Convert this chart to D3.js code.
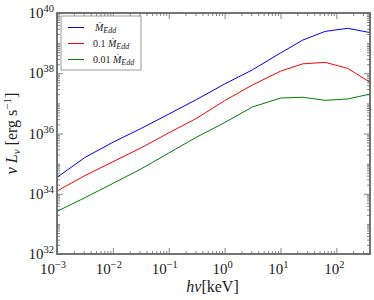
<!DOCTYPE html>
<html>
<head>
<meta charset="utf-8">
<script src="https://cdn.jsdelivr.net/npm/d3@7"></script>
<style>
  body { margin: 0; background: #fff; }
  text { font-family: "Liberation Serif", "DejaVu Serif", serif; fill: #222; }
</style>
</head>
<body>
<svg id="vis" width="374" height="300"></svg>
<script>
// photon energy in keV
const energies = [0.001, 0.00316, 0.01, 0.0316, 0.1, 0.316, 1, 3.16, 10, 25, 63, 160, 400]

// nu L_nu in erg/s for each accretion rate
const lumEdd = [3.5e34, 1.6e35, 5.1e35, 1.45e36, 4.4e36, 1.35e37, 4.4e37, 1.3e38, 4.7e38, 1.26e39, 2.45e39, 3.1e39, 2.24e39]
const lum01 = [1.23e34, 4.0e34, 1.15e35, 3.3e35, 1.05e36, 3.2e36, 1.23e37, 4.1e37, 1.17e38, 2.05e38, 2.3e38, 1.45e38, 5.0e37]
const lum001 = [2.6e33, 7.4e33, 2.2e34, 6.6e34, 2.24e35, 7.6e35, 2.3e36, 7.6e36, 1.5e37, 1.6e37, 1.26e37, 1.4e37, 2.04e37]

const seriesNames = ['', '0.1 ', '0.01 ']
const seriesColors = ['#0000ff', '#ff0000', '#008000']
const seriesValues = [lumEdd, lum01, lum001]

const xTickExps = [-3, -2, -1, 0, 1, 2]
const yTickExps = [32, 34, 36, 38, 40]

const margin = {left: 57, top: 13, right: 4, bottom: 46}
const width = 374 - margin.left - margin.right
const height = 300 - margin.top - margin.bottom

const svg = d3.select('#vis')
const chart = svg.append('g')
    .attr('transform', 'translate(' + margin.left + ',' + margin.top + ')')

const x = d3.scaleLog().domain([1e-3, 400]).range([0, width])
const y = d3.scaleLog().domain([1e32, 1e40]).range([height, 0])

// minor ticks: 2..9 times each decade
let xMinor = []
for (let e = -3; e <= 2; e++) for (let k = 2; k <= 9; k++) {
    let v = k * Math.pow(10, e)
    if (v <= 400) xMinor.push(v)
}
let yMinor = []
for (let e = 32; e < 40; e++) for (let k = 1; k <= 9; k++) {
    if (k === 1 && e % 2 === 0) continue
    yMinor.push(k * Math.pow(10, e))
}
const xMajor = xTickExps.map(e => Math.pow(10, e))
const yMajor = yTickExps.map(e => Math.pow(10, e))

const axisColor = '#666'

function tickLines(g){
    g.select('.domain').remove()
    g.selectAll('line').attr('stroke', axisColor).attr('stroke-width', 0.8)
    g.selectAll('text').remove()
}

// inward ticks on all four sides
chart.append('g').attr('transform', 'translate(0,' + height + ')')
    .call(d3.axisBottom(x).tickValues(xMajor).tickSize(-6)).call(tickLines)
chart.append('g').attr('transform', 'translate(0,' + height + ')')
    .call(d3.axisBottom(x).tickValues(xMinor).tickSize(-3)).call(tickLines)
chart.append('g')
    .call(d3.axisTop(x).tickValues(xMajor).tickSize(-6)).call(tickLines)
chart.append('g')
    .call(d3.axisTop(x).tickValues(xMinor).tickSize(-3)).call(tickLines)
chart.append('g')
    .call(d3.axisLeft(y).tickValues(yMajor).tickSize(-6)).call(tickLines)
chart.append('g')
    .call(d3.axisLeft(y).tickValues(yMinor).tickSize(-3)).call(tickLines)
chart.append('g').attr('transform', 'translate(' + width + ',0)')
    .call(d3.axisRight(y).tickValues(yMajor).tickSize(-6)).call(tickLines)
chart.append('g').attr('transform', 'translate(' + width + ',0)')
    .call(d3.axisRight(y).tickValues(yMinor).tickSize(-3)).call(tickLines)

// lines
const line = d3.line()
    .x((d, i) => x(energies[i]))
    .y(d => y(d))

chart.selectAll('.series')
    .data(seriesValues)
    .enter().append('path')
    .attr('class', 'series')
    .attr('d', d => line(d))
    .attr('fill', 'none')
    .attr('stroke', (d, i) => seriesColors[i])
    .attr('stroke-width', 1)

// frame
chart.append('rect')
    .attr('width', width).attr('height', height)
    .attr('fill', 'none')
    .attr('stroke', axisColor)
    .attr('stroke-width', 1.8)

// tick labels as 10^n
xTickExps.forEach(e => {
    let t = chart.append('text')
        .attr('x', x(Math.pow(10, e)) - (e < 0 ? 4 : 2))
        .attr('y', height + 20)
        .attr('text-anchor', 'middle')
        .style('font-size', '15px')
    t.append('tspan').text('10')
    t.append('tspan').attr('dy', -6).style('font-size', '10.5px')
        .text(e < 0 ? '\u2212' + (-e) : e)
})
yTickExps.forEach(e => {
    let t = chart.append('text')
        .attr('x', -3)
        .attr('y', y(Math.pow(10, e)) + 5)
        .attr('text-anchor', 'end')
        .style('font-size', '15px')
    t.append('tspan').text('10')
    t.append('tspan').attr('dy', -6).style('font-size', '10.5px').text(e)
})

// axis labels
let xl = svg.append('text')
    .attr('x', margin.left + width / 2 - 1)
    .attr('y', 292)
    .attr('text-anchor', 'middle')
    .style('font-size', '16px')
xl.append('tspan').style('font-style', 'italic').text('h\u03bd')
xl.append('tspan').text('[keV]')

let yl = svg.append('text')
    .attr('transform', 'translate(17,' + (margin.top + height / 2) + ') rotate(-90)')
    .attr('text-anchor', 'middle')
    .style('font-size', '16px')
yl.append('tspan').style('font-style', 'italic').text('\u03bd L')
yl.append('tspan').attr('dy', 3).style('font-size', '11px').style('font-style', 'italic').text('\u03bd')
yl.append('tspan').attr('dy', -3).text(' [erg s')
yl.append('tspan').attr('dy', -6).style('font-size', '11px').text('\u22121')
yl.append('tspan').attr('dy', 6).text(']')

// legend
const legend = svg.append('g').attr('transform', 'translate(61,16)')
legend.append('rect')
    .attr('width', 80).attr('height', 54)
    .attr('fill', '#fff')
    .attr('stroke', '#999')
    .attr('stroke-width', 1)
seriesNames.forEach((name, i) => {
    let ly = 11.5 + i * 16
    legend.append('line')
        .attr('x1', 7).attr('x2', 23)
        .attr('y1', ly).attr('y2', ly)
        .attr('stroke', seriesColors[i]).attr('stroke-width', 1)
    let t = legend.append('text')
        .attr('x', name === '' ? 34 : 32)
        .attr('y', ly + 3.5)
        .style('font-size', '10px')
    if (name !== '') t.append('tspan').text(name)
    t.append('tspan').style('font-style', 'italic').text('\u1e40')
    t.append('tspan').attr('dy', 2).style('font-size', '8px').style('font-style', 'italic').text('Edd')
})
</script>
</body>
</html>
